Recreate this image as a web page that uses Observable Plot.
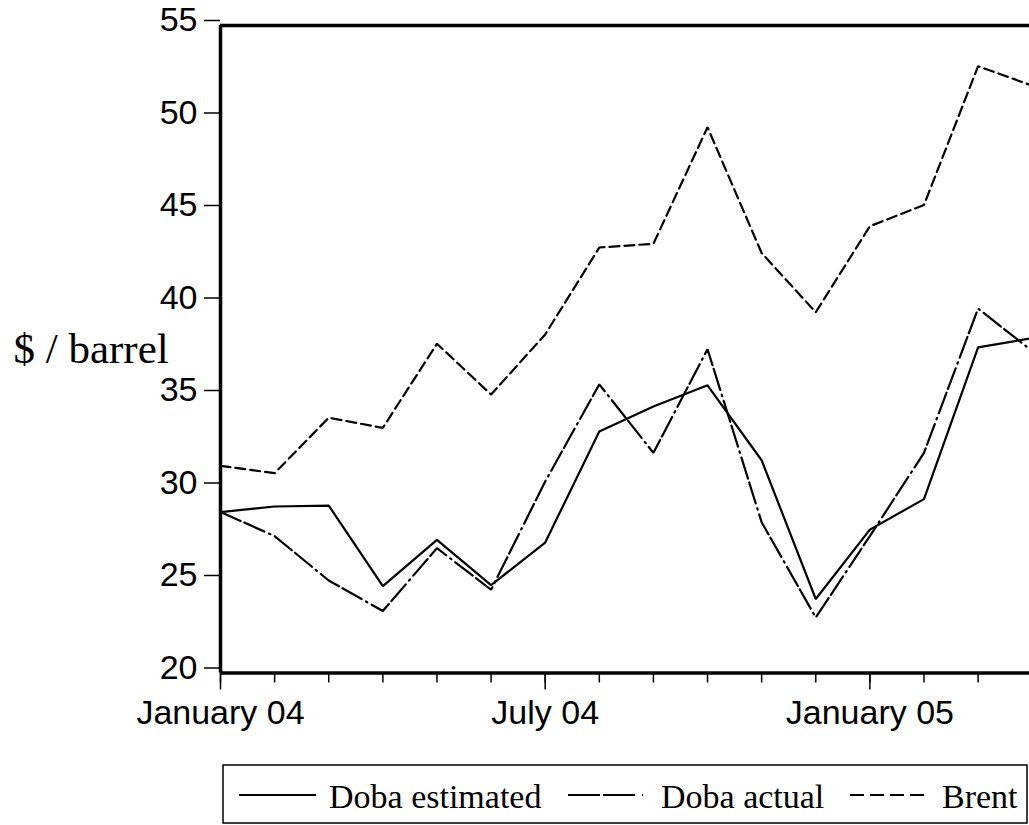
<!DOCTYPE html>
<html>
<head>
<meta charset="utf-8">
<script src="https://cdn.jsdelivr.net/npm/d3@7"></script>
<script src="https://cdn.jsdelivr.net/npm/@observablehq/plot@0.6"></script>
<style>
  html, body { margin: 0; padding: 0; background: #fff; overflow: hidden; }
  #chart { position: absolute; left: 0; top: 0; }
  #legend { position: absolute; left: 0; top: 0; }
</style>
</head>
<body>
<div id="chart"></div>
<div id="legend"></div>
<script>
// Months Jan 2004 .. Apr 2005
const months = ["2004-01","2004-02","2004-03","2004-04","2004-05","2004-06","2004-07","2004-08","2004-09","2004-10","2004-11","2004-12","2005-01","2005-02","2005-03","2005-04"];
const dobaEstimated = [28.7, 29.0, 29.05, 24.7, 27.2, 24.75, 27.05, 33.05, 34.4, 35.55, 31.5, 24.0, 27.75, 29.4, 37.6, 38.1];
const dobaActual    = [28.7, 27.4, 25.0, 23.35, 26.75, 24.5, 30.35, 35.6, 31.9, 37.5, 28.15, 23.0, 27.4, 31.9, 39.7, 37.4];
const brent         = [31.2, 30.8, 33.8, 33.25, 37.8, 35.05, 38.3, 43.0, 43.2, 49.5, 42.7, 39.5, 44.15, 45.3, 52.8, 51.75];
const seriesNames = ["Doba estimated", "Doba actual", "Brent"];
const yTicks = [20, 25, 30, 35, 40, 45, 50, 55];
const xLabelTicks = [0, 6, 12];
const xLabels = ["January 04", "July 04", "January 05"];
const yLabel = "$ / barrel";

const dashes = [null, "22,4,22,5,1.5,5", "10,5"];
const seriesValues = [dobaEstimated, dobaActual, brent];

const lineMarks = seriesValues.map((vals, k) =>
  Plot.lineY(vals.map((v, i) => ({i, v, month: months[i]})), {
    x: "i", y: "v", stroke: "black", strokeWidth: 2.2,
    strokeDasharray: dashes[k], strokeLinejoin: "miter"
  })
);

const chart = Plot.plot({
  width: 1029,
  height: 750,
  marginLeft: 220,
  marginRight: 0,
  marginTop: 25,
  marginBottom: 77.5,
  style: {fontFamily: "'Liberation Sans', Arial, sans-serif", fontSize: "34px", color: "black", background: "white"},
  x: {type: "linear", domain: [0, 14.95]},
  y: {domain: [20, 55]},
  marks: [
    ...lineMarks,
    Plot.axisY({ticks: yTicks, tickSize: 16, tickPadding: 7, label: null, fontSize: 34, strokeWidth: 1.5, dy: -5, tickFormat: d => String(d)}),
    Plot.axisX({ticks: d3.range(0, 16), tickSize: 10, tickFormat: () => "", label: null, strokeWidth: 1.5}),
    Plot.axisX({ticks: xLabelTicks, tickSize: 17, tickPadding: 9.5, label: null, fontSize: 34, strokeWidth: 1.5,
      tickFormat: d => xLabels[xLabelTicks.indexOf(d)]}),
    Plot.ruleX([0], {stroke: "black", strokeWidth: 3.5}),
    Plot.ruleY([20], {stroke: "black", strokeWidth: 3.5}),
    Plot.ruleY([55], {stroke: "black", strokeWidth: 3.5}),
    Plot.text([yLabel], {frameAnchor: "left", dx: -207, textAnchor: "start", lineAnchor: "middle",
      fontFamily: "'Liberation Serif', 'Times New Roman', serif", fontSize: 43, fill: "black"})
  ]
});
document.getElementById("chart").appendChild(chart);

// Legend below the chart
const lg = d3.select("#legend").append("svg").attr("width", 1029).attr("height", 825);
lg.append("rect").attr("x", 223).attr("y", 765).attr("width", 804).attr("height", 58)
  .attr("fill", "white").attr("stroke", "black").attr("stroke-width", 1.5);
const items = [
  {x1: 239, x2: 316, tx: 329},
  {x1: 568, x2: 643, tx: 661},
  {x1: 850, x2: 925, tx: 942}
];
items.forEach((it, k) => {
  lg.append("line").attr("x1", it.x1).attr("x2", it.x2).attr("y1", 795).attr("y2", 795)
    .attr("stroke", "black").attr("stroke-width", 2)
    .attr("stroke-dasharray", k === 1 ? "32,3,32,7,2,20" : (k === 2 ? "14,6" : null));
  lg.append("text").attr("x", it.tx).attr("y", 808)
    .attr("font-family", "'Liberation Serif', 'Times New Roman', serif").attr("font-size", 34)
    .attr("fill", "black").text(seriesNames[k]);
});
</script>
</body>
</html>
